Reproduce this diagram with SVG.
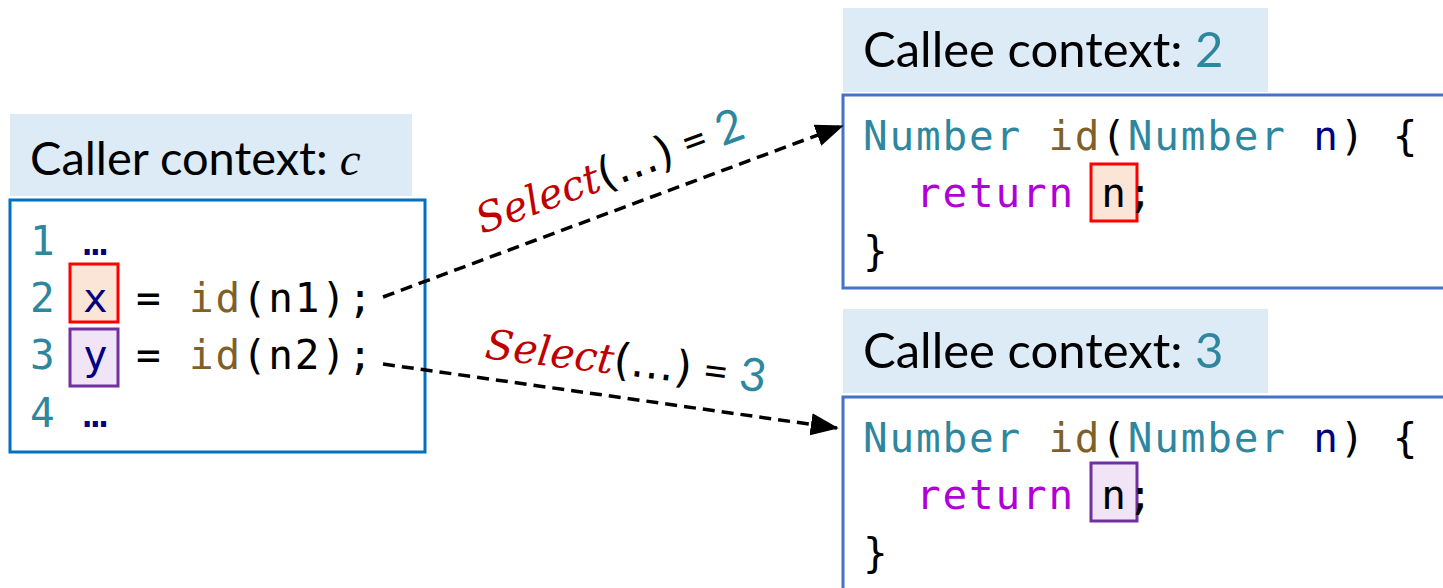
<svg xmlns="http://www.w3.org/2000/svg" width="1443" height="588" viewBox="0 0 1443 588">
<style>
.hdr{fill:#DDEBF7}
.htxt{font-family:Lato,"Liberation Sans",sans-serif;font-size:47px;fill:#000}
.code{font-family:"DejaVu Sans Mono","Liberation Mono",monospace;font-size:41px;letter-spacing:1.8px;fill:#000}
.num{fill:#2E879E}
.nv{fill:#000080}
.br{fill:#7F6026}
.kw{fill:#B000D8}
.sel{font-family:"DejaVu Serif","Liberation Serif",serif;font-style:italic;font-size:41px;fill:#C00000}
.par{font-family:"DejaVu Sans","Liberation Sans",sans-serif;font-size:44px;fill:#000}
.eq{font-family:Lato,"Liberation Sans",sans-serif;font-size:44px;fill:#000}
.eqn{font-family:Lato,"Liberation Sans",sans-serif;font-size:46px;fill:#2E879E}
.conn{stroke:#000;stroke-width:3.5;stroke-dasharray:12 7;fill:none}
</style>
<defs>
<marker id="ah" markerWidth="8" markerHeight="6.4" refX="7.5" refY="3.2" orient="auto" markerUnits="strokeWidth">
<path d="M0,0 L8,3.2 L0,6.4 Z" fill="#000"/>
</marker>
</defs>
<rect width="1443" height="588" fill="#fff"/>

<g id="caller">
<rect class="hdr" x="10" y="114" width="402" height="82"/>
<text class="htxt" x="30" y="175">Caller context: <tspan style="font-family:'Liberation Serif',serif;font-style:italic">c</tspan></text>
<rect x="10" y="200" width="415" height="252" fill="#fff" stroke="#0070C0" stroke-width="3"/>
<rect x="70" y="264" width="48" height="58" fill="#FBE5D6" stroke="#FF0000" stroke-width="3"/>
<rect x="70" y="329" width="48" height="57" fill="#F1E4F7" stroke="#7030A0" stroke-width="3"/>
<text class="code" xml:space="preserve" x="30" y="255"><tspan class="num">1</tspan> <tspan class="nv">…</tspan></text>
<text class="code" xml:space="preserve" x="30" y="312"><tspan class="num">2</tspan> <tspan class="nv">x</tspan> = <tspan class="br">id</tspan>(n1);</text>
<text class="code" xml:space="preserve" x="30" y="369"><tspan class="num">3</tspan> <tspan class="nv">y</tspan> = <tspan class="br">id</tspan>(n2);</text>
<text class="code" xml:space="preserve" x="30" y="427"><tspan class="num">4</tspan> <tspan class="nv">…</tspan></text>
</g>

<g id="callee2">
<rect class="hdr" x="843" y="8" width="425" height="84"/>
<text class="htxt" x="863" y="67" style="font-size:49px">Callee context: <tspan class="num">2</tspan></text>
<rect x="843" y="95" width="620" height="193" fill="#fff" stroke="#4472C4" stroke-width="3"/>
<rect x="1091" y="164" width="46" height="57" fill="#FBE5D6" stroke="#FF0000" stroke-width="3"/>
<text class="code" xml:space="preserve" x="863" y="150"><tspan class="num">Number</tspan> <tspan class="br">id</tspan>(<tspan class="num">Number</tspan> <tspan class="nv">n</tspan>) {</text>
<text class="code" xml:space="preserve" x="863" y="207">  <tspan class="kw">return</tspan> n;</text>
<text class="code" xml:space="preserve" x="863" y="265">}</text>
</g>

<g id="callee3">
<rect class="hdr" x="843" y="309" width="425" height="84"/>
<text class="htxt" x="863" y="368" style="font-size:49px">Callee context: <tspan class="num">3</tspan></text>
<rect x="843" y="397" width="620" height="220" fill="#fff" stroke="#4472C4" stroke-width="3"/>
<rect x="1091" y="463" width="46" height="58" fill="#F1E4F7" stroke="#7030A0" stroke-width="3"/>
<text class="code" xml:space="preserve" x="863" y="452"><tspan class="num">Number</tspan> <tspan class="br">id</tspan>(<tspan class="num">Number</tspan> <tspan class="nv">n</tspan>) {</text>
<text class="code" xml:space="preserve" x="863" y="509">  <tspan class="kw">return</tspan> n;</text>
<text class="code" xml:space="preserve" x="863" y="567">}</text>
</g>

<g id="connectors">
<line class="conn" x1="383" y1="297" x2="842" y2="126" marker-end="url(#ah)"/>
<line class="conn" x1="383" y1="364" x2="837" y2="428" marker-end="url(#ah)"/>
<text transform="translate(482,234) rotate(-20)"><tspan class="sel">Select</tspan><tspan class="par">(…)</tspan><tspan class="eq"> = </tspan><tspan class="eqn">2</tspan></text>
<text transform="translate(484,358) rotate(7)"><tspan class="sel">Select</tspan><tspan class="par">(…)</tspan><tspan class="eq"> = </tspan><tspan class="eqn">3</tspan></text>
</g>
</svg>
